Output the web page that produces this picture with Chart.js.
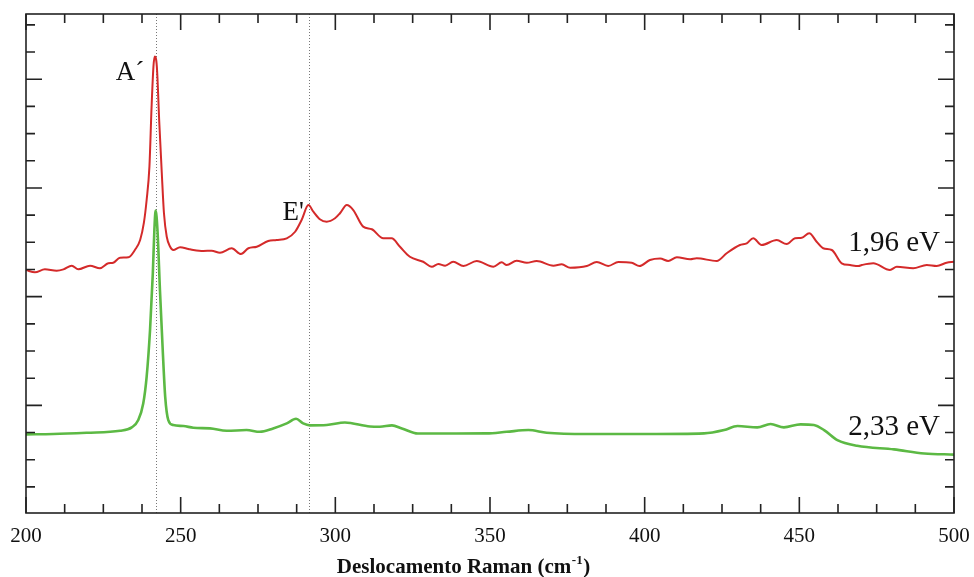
<!DOCTYPE html>
<html>
<head>
<meta charset="utf-8">
<script src="https://cdn.jsdelivr.net/npm/chart.js@4.4.1/dist/chart.umd.min.js"></script>
<style>
  html, body { margin: 0; padding: 0; background: #fff; }
  canvas { display: block; }
</style>
</head>
<body>
<canvas id="raman" width="974" height="577"></canvas>
<script>
// Raman spectra at two excitation energies (intensity in arbitrary, offset units)
const redShift = [200, 202.9, 206.1, 209.9, 212.1, 214.8, 216.9, 220.7, 223.9, 226.6, 228.2, 230.4, 233.1, 235.2, 236.9, 238.1, 239.0, 239.9, 240.6, 241.2, 241.6, 242.3, 243.1, 243.9, 244.6, 245.5, 246.6, 247.6, 249.8, 252.5, 254.1, 257.3, 260.0, 262.7, 266.5, 269.5, 271.9, 274.6, 278.3, 281.0, 284.3, 287.0, 289.1, 291.3, 292.9, 295.0, 297.2, 299.9, 301.5, 303.7, 305.8, 309.0, 311.8, 315.5, 318.2, 320.9, 324.1, 328.4, 331.2, 333.3, 335.5, 338.1, 341.4, 345.7, 351.1, 353.8, 355.4, 358.6, 361.9, 365.1, 370.5, 373.2, 375.9, 381.3, 384.5, 388.2, 391.5, 395.8, 398.3, 401.7, 405.0, 407.6, 410.4, 414.7, 416.8, 423.3, 426.5, 430.8, 433.0, 435.1, 437.8, 442.7, 445.9, 448.6, 450.8, 453.2, 455.6, 457.7, 460.5, 463.7, 466.4, 469.1, 470.2, 473.9, 479.3, 481.5, 486.8, 491.2, 494.4, 497.6, 500];
const redIntensity = [1.245, 1.224, 1.251, 1.239, 1.251, 1.285, 1.251, 1.285, 1.261, 1.307, 1.312, 1.358, 1.362, 1.429, 1.521, 1.678, 1.889, 2.196, 2.748, 3.116, 3.208, 3.116, 2.595, 2.135, 1.767, 1.551, 1.459, 1.429, 1.454, 1.438, 1.429, 1.420, 1.423, 1.404, 1.445, 1.392, 1.445, 1.459, 1.512, 1.521, 1.537, 1.597, 1.705, 1.842, 1.782, 1.712, 1.690, 1.721, 1.767, 1.843, 1.797, 1.644, 1.620, 1.537, 1.537, 1.459, 1.367, 1.321, 1.275, 1.300, 1.285, 1.321, 1.282, 1.328, 1.275, 1.316, 1.291, 1.331, 1.312, 1.328, 1.285, 1.297, 1.266, 1.282, 1.319, 1.282, 1.319, 1.312, 1.282, 1.337, 1.351, 1.328, 1.362, 1.344, 1.353, 1.328, 1.399, 1.475, 1.491, 1.537, 1.475, 1.521, 1.484, 1.537, 1.542, 1.583, 1.505, 1.445, 1.429, 1.307, 1.291, 1.282, 1.291, 1.307, 1.245, 1.275, 1.261, 1.291, 1.282, 1.312, 1.321];

const greenShift = [200, 208.8, 219.6, 230.4, 234.2, 236.3, 237.9, 239.0, 240.1, 241.0, 241.5, 241.9, 242.5, 243.3, 244.2, 245.0, 246.0, 247.6, 250.9, 254.1, 259.5, 264.9, 271.3, 275.6, 279.9, 284.3, 287.3, 289.6, 291.8, 297.2, 303.1, 311.2, 314.4, 318.3, 321.5, 326.7, 337.1, 348.9, 355.4, 362.4, 368.3, 381.3, 400.7, 419.2, 425.7, 430.0, 436.4, 440.7, 445.0, 450.4, 454.7, 458.0, 462.3, 468.7, 480.6, 490.4, 500];
const greenIntensity = [-0.267, -0.264, -0.252, -0.234, -0.202, -0.135, 0.018, 0.263, 0.693, 1.215, 1.613, 1.791, 1.613, 1.061, 0.509, 0.079, -0.135, -0.181, -0.190, -0.206, -0.212, -0.234, -0.227, -0.243, -0.212, -0.166, -0.123, -0.166, -0.184, -0.181, -0.158, -0.195, -0.197, -0.184, -0.212, -0.259, -0.259, -0.258, -0.243, -0.227, -0.252, -0.264, -0.264, -0.258, -0.227, -0.190, -0.202, -0.172, -0.202, -0.175, -0.181, -0.227, -0.319, -0.372, -0.405, -0.442, -0.453];

// axis ticks and reference lines
const xTickLabels = [200, 250, 300, 350, 400, 450, 500];
const yMajorTicks = [0, 1, 2, 3];
const modeLines = [241.9, 291.6];
const peakLabels = [
  { text: 'A\u00B4', x: 241.6, y: 3.208, dx: -39, dy: 0 },
  { text: "E'", x: 291.3, y: 1.842, dx: -26, dy: -8 }
];
const seriesLabels = ['1,96 eV', '2,33 eV'];

const serif = '"Liberation Serif", "Times New Roman", serif';

const toPoints = (xs, ys) => xs.map((x, i) => ({ x: x, y: ys[i] }));

// frame, inward ticks, dotted mode lines and text labels
const decorations = {
  id: 'decorations',
  beforeDatasetsDraw(chart) {
    const { ctx, chartArea: a, scales: { x } } = chart;
    ctx.save();
    ctx.strokeStyle = '#777';
    ctx.lineWidth = 1;
    ctx.setLineDash([1, 2]);
    modeLines.forEach(v => {
      const px = Math.round(x.getPixelForValue(v)) + 0.5;
      ctx.beginPath();
      ctx.moveTo(px, a.top);
      ctx.lineTo(px, a.bottom);
      ctx.stroke();
    });
    ctx.restore();
  },
  afterDatasetsDraw(chart) {
    const { ctx, chartArea: a, scales: { x, y } } = chart;
    ctx.save();
    ctx.strokeStyle = '#222';
    ctx.lineWidth = 1.6;
    ctx.strokeRect(a.left, a.top, a.right - a.left, a.bottom - a.top);

    ctx.beginPath();
    // x ticks every 12.5, longer at labelled values
    for (let v = 200; v <= 500; v += 12.5) {
      const px = x.getPixelForValue(v);
      const len = xTickLabels.includes(v) ? 16 : 9;
      ctx.moveTo(px, a.bottom); ctx.lineTo(px, a.bottom - len);
      ctx.moveTo(px, a.top); ctx.lineTo(px, a.top + len);
    }
    // y ticks every 0.25, longer at whole units
    for (let v = -0.75; v <= 3.5; v += 0.25) {
      const py = y.getPixelForValue(v);
      const len = yMajorTicks.includes(v) ? 16 : 9;
      ctx.moveTo(a.left, py); ctx.lineTo(a.left + len, py);
      ctx.moveTo(a.right, py); ctx.lineTo(a.right - len, py);
    }
    ctx.stroke();

    // peak assignments
    ctx.fillStyle = '#111';
    ctx.font = '27px ' + serif;
    ctx.textAlign = 'left';
    ctx.textBaseline = 'alphabetic';
    peakLabels.forEach(p => {
      ctx.fillText(p.text, x.getPixelForValue(p.x) + p.dx, y.getPixelForValue(p.y) + 23 + p.dy);
    });

    // excitation energies at the right end of each spectrum
    ctx.font = '29px ' + serif;
    ctx.textAlign = 'right';
    ctx.fillText(seriesLabels[0], a.right - 14, y.getPixelForValue(redIntensity[redIntensity.length - 1]) - 11);
    ctx.fillText(seriesLabels[1], a.right - 14, y.getPixelForValue(greenIntensity[greenIntensity.length - 1]) - 20);

    // x-axis title with superscript
    const main = 'Deslocamento Raman (cm';
    const sup = '-1';
    const tail = ')';
    ctx.textAlign = 'left';
    ctx.font = 'bold 21px ' + serif;
    const wMain = ctx.measureText(main).width;
    const wTail = ctx.measureText(tail).width;
    ctx.font = 'bold 13px ' + serif;
    const wSup = ctx.measureText(sup).width;
    const start = 463 - (wMain + wSup + wTail) / 2;
    const base = 573;
    ctx.font = 'bold 21px ' + serif;
    ctx.fillText(main, start, base);
    ctx.font = 'bold 13px ' + serif;
    ctx.fillText(sup, start + wMain + 0.5, base - 9);
    ctx.font = 'bold 21px ' + serif;
    ctx.fillText(tail, start + wMain + wSup + 1, base);
    ctx.restore();
  }
};

new Chart(document.getElementById('raman'), {
  type: 'line',
  data: {
    datasets: [
      {
        label: '1,96 eV',
        data: toPoints(redShift, redIntensity),
        borderColor: '#d42a2a',
        borderWidth: 2,
        pointRadius: 0,
        cubicInterpolationMode: 'monotone',
        fill: false
      },
      {
        label: '2,33 eV',
        data: toPoints(greenShift, greenIntensity),
        borderColor: '#5cb944',
        borderWidth: 2.6,
        pointRadius: 0,
        cubicInterpolationMode: 'monotone',
        fill: false
      }
    ]
  },
  options: {
    responsive: false,
    animation: false,
    layout: { padding: { left: 26, right: 20, top: 14, bottom: 0 } },
    plugins: {
      legend: { display: false },
      tooltip: { enabled: false }
    },
    scales: {
      x: {
        type: 'linear',
        min: 200,
        max: 500,
        grid: { display: false, drawTicks: false },
        border: { display: false },
        ticks: {
          stepSize: 50,
          padding: 11,
          color: '#111',
          font: { family: serif, size: 21 },
          maxRotation: 0
        },
        afterFit(scale) {
          scale.height = 64;
          scale.paddingLeft = 0;
          scale.paddingRight = 0;
        }
      },
      y: {
        type: 'linear',
        display: false,
        min: -0.99,
        max: 3.6
      }
    }
  },
  plugins: [decorations]
});
</script>
</body>
</html>
